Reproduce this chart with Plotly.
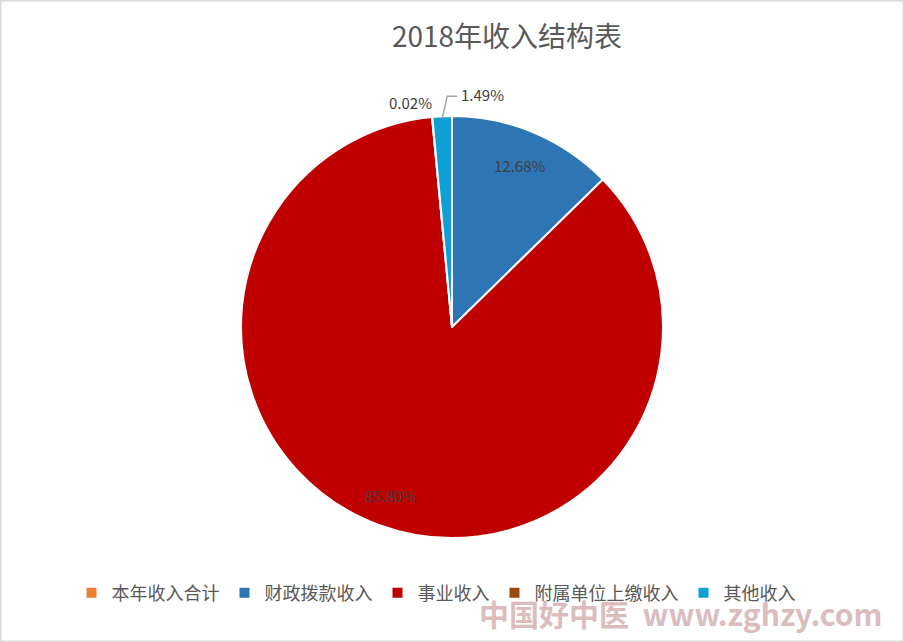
import math
import plotly.graph_objects as go

labels = ["本年收入合计", "财政拨款收入", "事业收入", "附属单位上缴收入", "其他收入"]
values = [0, 12.68, 85.80, 0.02, 1.49]
colors = ["#ED7D31", "#2E75B6", "#C00000", "#9E480E", "#0E9FD4"]
title = "2018年收入结构表"
watermark = "中国好中医\u00a0\u00a0www.zghzy.com"

W, H = 904, 642
CX, CY, R = 452, 327, 211  # pie geometry in pixels (layout)

fig = go.Figure(go.Pie(
    labels=labels,
    values=values,
    textinfo="none",
    sort=False,
    direction="clockwise",
    rotation=0,
    marker=dict(colors=colors, line=dict(color="white", width=2)),
    domain=dict(x=[(CX - R) / W, (CX + R) / W], y=[(H - CY - R) / H, (H - CY + R) / H]),
    hoverinfo="label+percent",
))

# data labels placed from the slice angles
total = sum(values)
annotations = []
shapes = []
lab_font = dict(family="Noto Sans CJK SC", size=15, color="#404040")


def px2paper(x, y):
    return x / W, 1 - y / H


cum = 0.0
for i, v in enumerate(values):
    mid = (cum + v / 2) / total * 2 * math.pi
    cum += v
    if v == 0:
        continue
    txt = f"{v:.2f}%"
    frac = v / total
    if frac > 0.05:
        rr = R * (0.83 if frac < 0.5 else 0.85)
        x, y = CX + rr * math.sin(mid), CY - rr * math.cos(mid)
        px, py = px2paper(x, y)
        annotations.append(dict(text=txt, x=px, y=py, xref="paper", yref="paper",
                                showarrow=False, xanchor="center", yanchor="middle", font=lab_font))
    elif frac < 0.001:
        rr = R + 14
        x, y = CX + rr * math.sin(mid), CY - rr * math.cos(mid)
        px, py = px2paper(x + 3, y)
        annotations.append(dict(text=txt, x=px, y=py, xref="paper", yref="paper",
                                showarrow=False, xanchor="right", yanchor="middle", font=lab_font))
    else:
        x0, y0 = CX + (R - 2) * math.sin(mid), CY - (R - 2) * math.cos(mid)
        x1, y1 = x0 + 5, y0 - 22
        x2, y2 = x1 + 10, y1
        pts = [px2paper(a, b) for a, b in [(x0, y0), (x1, y1), (x2, y2)]]
        path = "M {} {} L {} {} L {} {}".format(pts[0][0], pts[0][1], pts[1][0], pts[1][1], pts[2][0], pts[2][1])
        shapes.append(dict(type="path", xref="paper", yref="paper", path=path,
                           line=dict(color="#A6A6A6", width=1.5)))
        px, py = px2paper(x2 + 2, y2 - 2)
        annotations.append(dict(text=txt, x=px, y=py, xref="paper", yref="paper",
                                showarrow=False, xanchor="left", yanchor="middle", font=lab_font))

annotations.append(dict(text=watermark, xref="paper", yref="paper", x=680 / W, y=1 - 613 / H,
                        xanchor="center", yanchor="middle", showarrow=False,
                        font=dict(size=30, color="#DBBDBD", family="Noto Sans CJK SC", weight="bold")))

shapes.append(dict(type="rect", xref="paper", yref="paper", x0=0, x1=1, y0=0, y1=1,
                   line=dict(color="#D9D9D9", width=3), fillcolor="rgba(0,0,0,0)"))

fig.update_layout(
    width=W, height=H,
    margin=dict(l=0, r=0, t=0, b=0),
    paper_bgcolor="white",
    font=dict(family="Noto Sans CJK SC", color="#595959"),
    title=dict(text=title, x=507 / W, xanchor="center", y=1 - 37 / H, yanchor="middle",
               font=dict(size=28, color="#595959", family="Noto Sans CJK SC")),
    showlegend=True,
    legend=dict(orientation="h", x=436 / W, xanchor="center", y=1 - 593 / H, yanchor="middle",
                font=dict(size=18, color="#595959"), traceorder="normal"),
    shapes=shapes,
    annotations=annotations,
)

fig.write_html("out.html", config={"displayModeBar": False},
               post_script="document.body.style.margin='0';")
